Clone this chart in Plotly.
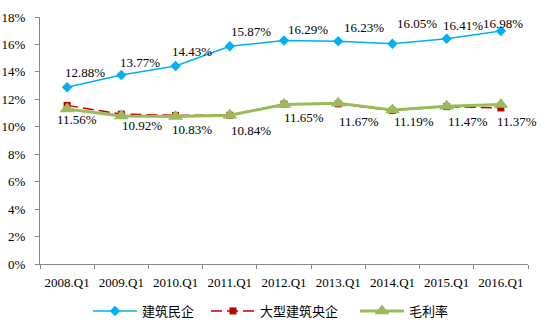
import plotly.graph_objects as go

categories = ["2008.Q1", "2009.Q1", "2010.Q1", "2011.Q1", "2012.Q1",
              "2013.Q1", "2014.Q1", "2015.Q1", "2016.Q1"]
private_firms = [12.88, 13.77, 14.43, 15.87, 16.29, 16.23, 16.05, 16.41, 16.98]
central_soes = [11.56, 10.92, 10.83, 10.84, 11.65, 11.67, 11.19, 11.47, 11.37]
gross_margin = [11.30, 10.78, 10.74, 10.84, 11.62, 11.72, 11.22, 11.50, 11.62]
y_ticks = [0, 2, 4, 6, 8, 10, 12, 14, 16, 18]

# label offsets (pixels) – styling only
blue_dx = [18, 19, 16, 21, 24, 26, 25, 16, 2]
blue_dy = [15, 13, 14, 15, 11, 14, 20, 13, 8]
red_dx = [10, 21, 16, 21, 20, 21, 22, 21, 16]
red_dy = [14, 11, 14, 15, 13, 18, 11, 15, 14]

serif = "'Liberation Serif', 'Times New Roman', Times, serif"
cjk = "'Noto Sans CJK SC', sans-serif"
W, H = 541, 322

fig = go.Figure()
fig.add_trace(go.Scatter(
    x=categories, y=private_firms, name="建筑民企", mode="lines+markers",
    line=dict(color="#00B0F0", width=1.5), legend="legend",
    marker=dict(symbol="diamond", size=8, color="#00B0F0")))
fig.add_trace(go.Scatter(
    x=categories, y=central_soes, name="大型建筑央企", mode="lines+markers",
    line=dict(color="#C00000", width=1.5, dash="11px,5px"), legend="legend2",
    marker=dict(symbol="square", size=7, color="#C00000")))
fig.add_trace(go.Scatter(
    x=categories, y=gross_margin, name="毛利率", mode="lines+markers",
    line=dict(color="#9BBB59", width=3), legend="legend3",
    marker=dict(symbol="triangle-up", size=13, color="#9BBB59")))

annotations = []
for c, v, dx, dy in zip(categories, private_firms, blue_dx, blue_dy):
    annotations.append(dict(x=c, y=v, xref="x", yref="y", text=f"{v:.2f}%",
                            showarrow=False, xshift=dx, yshift=dy,
                            font=dict(family=serif, size=13, color="#000")))
for c, v, dx, dy in zip(categories, central_soes, red_dx, red_dy):
    annotations.append(dict(x=c, y=v, xref="x", yref="y", text=f"{v:.2f}%",
                            showarrow=False, xshift=dx, yshift=-dy,
                            font=dict(family=serif, size=13, color="#000")))


def leg(px):
    return dict(orientation="h", xref="container", yref="container",
                x=px / W, xanchor="left", y=1 - 311 / H, yanchor="middle",
                itemwidth=44,
                font=dict(family=cjk, size=13, color="#000"),
                bgcolor="rgba(0,0,0,0)")


fig.update_layout(
    width=W, height=H,
    margin=dict(l=40, r=13, t=17, b=58, autoexpand=False),
    paper_bgcolor="white", plot_bgcolor="white",
    showlegend=True,
    legend=leg(88), legend2=leg(206), legend3=leg(355),
    annotations=annotations,
    xaxis=dict(type="category", range=[-0.5, 8.5], showgrid=False,
               showline=True, linecolor="#868686", linewidth=1,
               ticks="outside", tickson="boundaries", ticklen=4,
               tickcolor="#868686", tickangle=0, ticklabelstandoff=6,
               automargin=False,
               tickfont=dict(family=serif, size=13, color="#000")),
    yaxis=dict(range=[0, 18], tickvals=y_ticks,
               ticktext=[f"{t}%" for t in y_ticks], showgrid=False,
               zeroline=False, showline=True, linecolor="#868686",
               linewidth=1, ticks="outside", ticklen=4, tickcolor="#868686",
               ticklabelstandoff=7, automargin=False,
               tickfont=dict(family=serif, size=13, color="#000")),
)

fig.write_html("out.html")
